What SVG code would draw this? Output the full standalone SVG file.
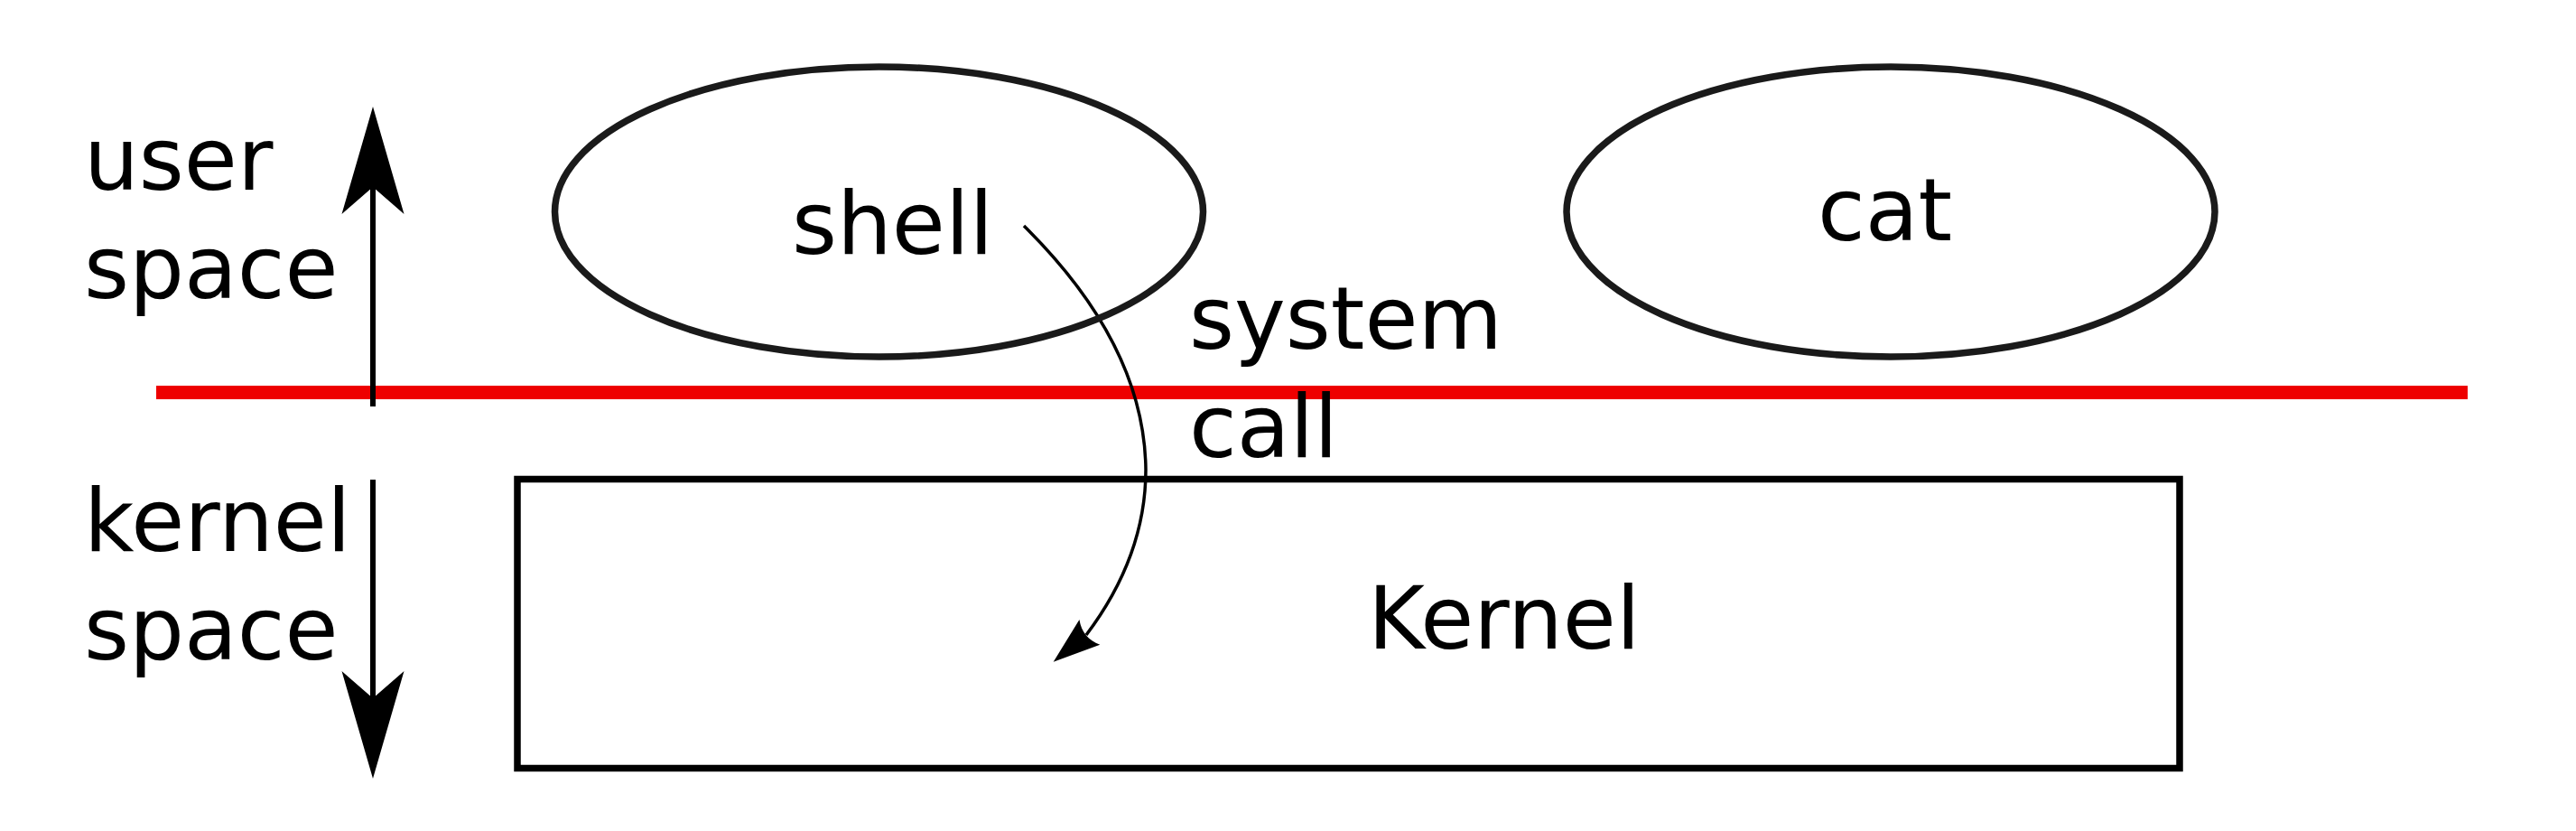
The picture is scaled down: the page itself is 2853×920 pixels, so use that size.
<svg xmlns="http://www.w3.org/2000/svg" width="2853" height="920" viewBox="0 0 2853 920">
  <style>
    .lbl { font-family: "DejaVu Sans", "Liberation Sans", sans-serif; font-size: 96px; fill: #000; }
    .node { fill: none; stroke: #1a1a1a; stroke-width: 7.5; }
    .conn { fill: none; stroke: #000; }
  </style>
  <defs>
    <marker id="bigArrow" markerUnits="userSpaceOnUse" orient="auto" viewBox="-31 -36 121 72" refX="0" refY="0" markerWidth="121" markerHeight="72" overflow="visible">
      <path d="M89,0 L-30,-34.5 L0,0 L-30,34.5 Z" fill="#000"/>
    </marker>
    <marker id="curveArrow" markerUnits="userSpaceOnUse" orient="140.6" viewBox="-6 -19 54 38" refX="0" refY="0" markerWidth="54" markerHeight="38" overflow="visible">
      <path d="M47,0 L-5,-18 C2,-6 2,6 -5,18 Z" fill="#000"/>
    </marker>
  </defs>
  <rect width="2853" height="920" fill="#fff"/>

  <g id="boundary">
    <line x1="173" y1="434.5" x2="2733" y2="434.5" stroke="#ee0000" stroke-width="15"/>
  </g>

  <g id="connectors">
    <line class="conn" x1="413" y1="450" x2="413" y2="207" stroke-width="6" marker-end="url(#bigArrow)"/>
    <line class="conn" x1="413" y1="531" x2="413" y2="773" stroke-width="6" marker-end="url(#bigArrow)"/>
    <path class="conn" d="M1134,250 C1215,330 1268,420 1269,520 C1269,590 1243,650 1203,703" stroke-width="3.5" marker-end="url(#curveArrow)"/>
  </g>

  <g id="user-space-label">
    <text class="lbl" x="93" y="210">user</text>
    <text class="lbl" x="93" y="330">space</text>
  </g>
  <g id="kernel-space-label">
    <text class="lbl" x="93" y="610">kernel</text>
    <text class="lbl" x="93" y="730">space</text>
  </g>

  <g id="shell">
    <ellipse class="node" cx="973.5" cy="234.5" rx="359" ry="160.5"/>
    <text class="lbl" x="877" y="281">shell</text>
  </g>

  <g id="cat">
    <ellipse class="node" cx="2094" cy="234.5" rx="359" ry="160.5"/>
    <text class="lbl" x="2013" y="266">cat</text>
  </g>

  <g id="kernel">
    <rect x="573" y="530.5" width="1841" height="320" fill="none" stroke="#000" stroke-width="7.5"/>
    <text class="lbl" x="1515" y="718">Kernel</text>
  </g>

  <g id="system-call-label">
    <text class="lbl" x="1317" y="386">system</text>
    <text class="lbl" x="1317" y="506">call</text>
  </g>
</svg>
